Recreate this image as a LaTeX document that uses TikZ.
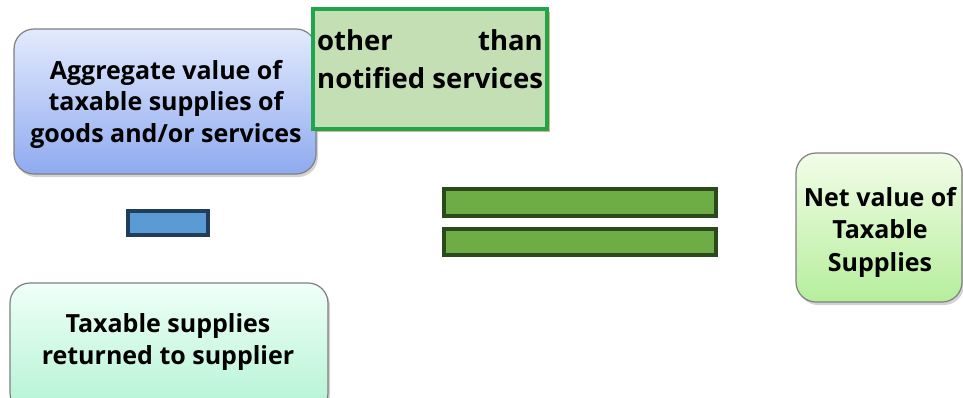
\documentclass[tikz,border=0pt]{standalone}
\usepackage{fontspec}
\setmainfont{Open Sans}
\usetikzlibrary{shadows}
\definecolor{bluetop}{HTML}{E2EAFC}
\definecolor{bluebot}{HTML}{8FAAF0}
\definecolor{cyantop}{HTML}{EFFFF8}
\definecolor{cyanbot}{HTML}{B3F3D3}
\definecolor{greentop}{HTML}{F2FDE8}
\definecolor{greenbot}{HTML}{B6EE9C}
\definecolor{notefill}{HTML}{C5DFB5}
\definecolor{noteline}{HTML}{1FA64A}
\definecolor{minusfill}{HTML}{5B9BD5}
\definecolor{minusline}{HTML}{223D5C}
\definecolor{eqfill}{HTML}{6EAC46}
\definecolor{eqline}{HTML}{2B4A1B}
\definecolor{boxline}{HTML}{7F7F7F}
\tikzset{
  bigtext/.style={font=\bfseries\fontsize{25}{31.5}\selectfont},
  nettext/.style={font=\bfseries\fontsize{25}{32.5}\selectfont},
  notetext/.style={font=\bfseries\fontsize{27.5}{38}\selectfont},
  roundbox/.style={draw=boxline, line width=1.2pt, rounded corners=20pt,
    drop shadow={shadow xshift=2pt, shadow yshift=-3pt, opacity=0.35},
    inner sep=0pt},
  bar/.style={line width=4pt},
}
\begin{document}
\begin{tikzpicture}[x=1pt,y=-1pt]
\useasboundingbox (0,0) rectangle (963,397);
\node[roundbox, top color=bluetop, bottom color=bluebot, minimum width=302pt, minimum height=145pt] (agg) at (165,101.5) {};
\node[bigtext, align=center] (aggtxt) at (166,104) {Aggregate value of\\taxable supplies of\\goods and/or services};
\node[roundbox, top color=cyantop, bottom color=cyanbot, minimum width=318pt, minimum height=130pt] (ret) at (169,348) {};
\node[bigtext, align=center] (rettxt) at (168,342) {Taxable supplies\\returned to supplier};
\node[roundbox, top color=greentop, bottom color=greenbot, minimum width=166pt, minimum height=149pt] (net) at (879,227.5) {};
\node[nettext, align=center] (nettxt) at (880,232) {Net value of\\Taxable\\Supplies};
\node[draw=noteline, line width=3.5pt, fill=notefill, minimum width=234pt, minimum height=120pt, inner sep=0pt,
  drop shadow={shadow xshift=2.5pt, shadow yshift=-2.5pt, fill=brown!70!orange, opacity=0.6}] (note) at (430,69) {};
\node[notetext, anchor=base west, inner sep=0pt] (l1a) at (317,50) {other};
\node[notetext, anchor=base east, inner sep=0pt] (l1b) at (543,50) {than};
\node[notetext, anchor=base west, inner sep=0pt] (l2) at (317,88) {notified services};
\node[draw=minusline, fill=minusfill, bar, minimum width=80pt, minimum height=24pt, inner sep=0pt] (minus) at (168,223) {};
\node[draw=eqline, fill=eqfill, bar, minimum width=272pt, minimum height=27pt, inner sep=0pt] (eq1) at (580,202.5) {};
\node[draw=eqline, fill=eqfill, bar, minimum width=272pt, minimum height=26pt, inner sep=0pt] (eq2) at (580,242) {};
\end{tikzpicture}
\end{document}
